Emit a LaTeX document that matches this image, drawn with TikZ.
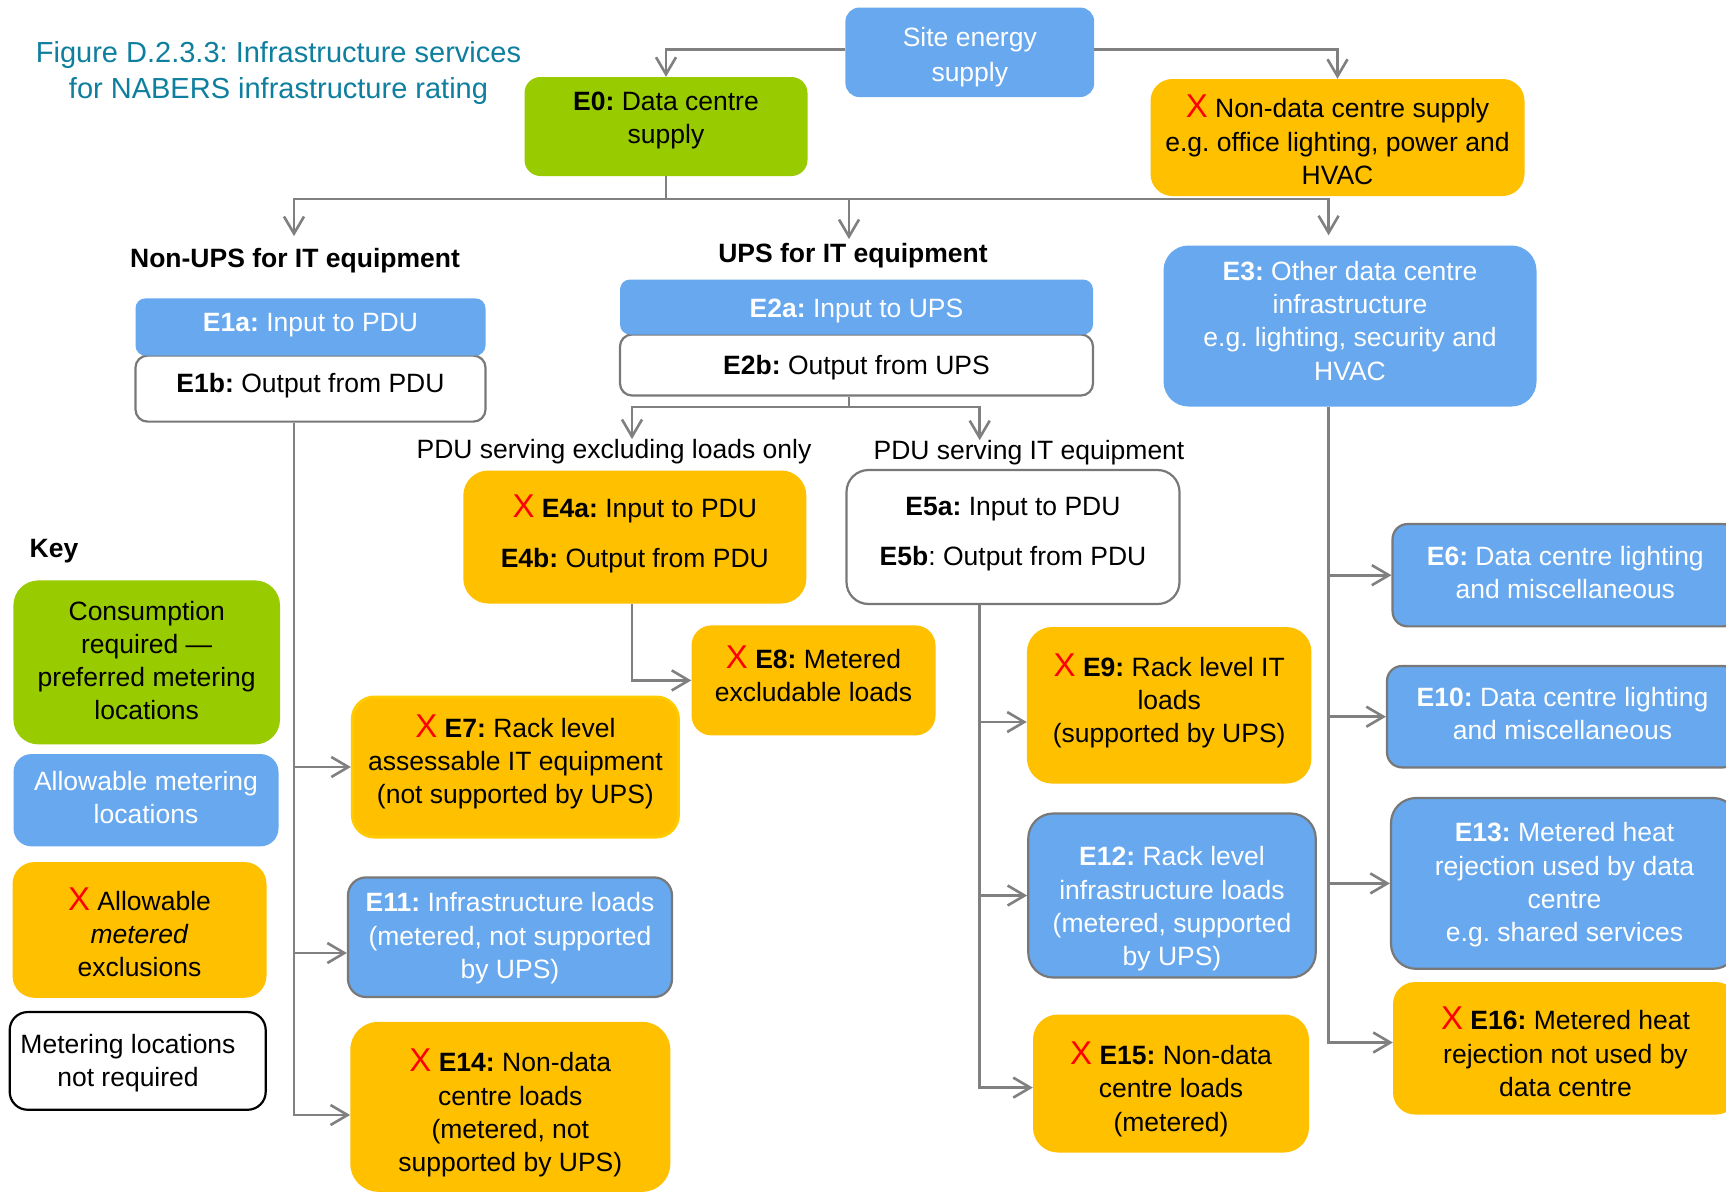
\documentclass[tikz,border=0pt]{standalone}
\usepackage{fontspec}
\setmainfont{Liberation Sans}
\usetikzlibrary{arrows.meta}
\definecolor{cblue}{RGB}{103,168,238}
\definecolor{cgreen}{RGB}{153,204,0}
\definecolor{corange}{RGB}{255,192,0}
\definecolor{cline}{RGB}{128,128,128}
\definecolor{cborder}{RGB}{120,120,120}
\definecolor{cteal}{RGB}{14,127,158}
\definecolor{cred}{RGB}{255,0,0}
\definecolor{cyel}{RGB}{255,202,0}
\newcommand\redx{{\fontsize{33}{33.3}\selectfont\color{cred}X}}
% name, style, radius, cx, cy, w, h, text-y, text
\newcommand\bx[9]{%
  \node[#2, rounded corners=#3pt, minimum width=#6pt, minimum height=#7pt] (#1) at (#4,#5) {};
  \node[txt, #2t] (#1t) at (#4,#8) {#9};}
\begin{document}
\frenchspacing
\begin{tikzpicture}[x=1pt,y=-1pt,
  txt/.style={inner sep=0pt, align=center, font=\fontsize{26.5}{33.3}\selectfont},
  boxbase/.style={inner sep=0pt},
  blu/.style={boxbase, fill=cblue},
  blut/.style={text=white},
  blb/.style={boxbase, fill=cblue, draw=cborder, line width=2.2pt},
  blbt/.style={text=white},
  grn/.style={boxbase, fill=cgreen},
  grnt/.style={text=black},
  org/.style={boxbase, fill=corange},
  orgt/.style={text=black},
  orgy/.style={boxbase, fill=corange, draw=cyel, line width=3pt},
  orgyt/.style={text=black},
  wht/.style={boxbase, fill=white, draw=cborder, line width=2.2pt},
  whtt/.style={text=black},
  whk/.style={boxbase, fill=white, draw=black, line width=2.2pt},
  whkt/.style={text=black},
  conn/.style={draw=cline, line width=2.6pt},
  arr/.style={conn, -{Straight Barb[length=17pt,width=20pt]}},
  hdr/.style={inner sep=0pt, font=\fontsize{26.5}{33.3}\selectfont\bfseries, anchor=base},
  lbl/.style={inner sep=0pt, font=\fontsize{26.5}{33.3}\selectfont, anchor=base},
]
\useasboundingbox (0,0) rectangle (1726,1194);
\clip (0,0) rectangle (1726,1194);
\fill[white] (0,0) rectangle (1726,1194);

% title
\node[txt, font=\fontsize{29}{36}\selectfont, text=cteal] (title) at (278.5,73.5)
  {Figure D.2.3.3: Infrastructure services\\for NABERS infrastructure rating};

% top row
\bx{site}{blu}{14}{969.8}{52.3}{248.8}{89.5}{57.2}{Site energy\\[1.9pt]supply}
\bx{E0}{grn}{16}{666}{126.5}{283}{99}{120.8}{\textbf{E0:} Data centre\\supply}
\bx{ND}{org}{22}{1337.5}{137.5}{374}{117}{139.9}{\redx\ Non-data centre supply\\e.g. office lighting, power and\\HVAC}

% headers
\node[hdr] (hL) at (295,267) {Non-UPS for IT equipment};
\node[hdr] (hM) at (853,262.5) {UPS for IT equipment};

% second row
\bx{E1b}{wht}{12}{310.5}{388.6}{350}{66}{385.5}{\textbf{E1b:} Output from PDU}
\bx{E1a}{blu}{10}{310.5}{327}{350}{57.3}{325.5}{\textbf{E1a:} Input to PDU}
\bx{E2b}{wht}{12}{856.5}{365}{473}{61}{367.2}{\textbf{E2b:} Output from UPS}
\bx{E2a}{blu}{10}{856.5}{307}{473}{55}{311.3}{\textbf{E2a:} Input to UPS}
\bx{E3}{blu}{25}{1350}{326}{373}{161}{320.7}{\textbf{E3:} Other data centre\\infrastructure\\e.g. lighting, security and\\HVAC}

% PDU labels
\node[lbl] (lL) at (614,458.5) {PDU serving excluding loads only};
\node[lbl] (lR) at (1029,459.6) {PDU serving IT equipment};

\bx{E4}{org}{25}{634.8}{537}{343}{133}{533.6}{\redx\ \textbf{E4a:} Input to PDU\\[17pt]\textbf{E4b:} Output from PDU}
\bx{E5}{wht}{22}{1013}{537}{333}{134}{533.9}{\textbf{E5a:} Input to PDU\\[17pt]\textbf{E5b}: Output from PDU}

% lower boxes
\bx{E8}{org}{20}{813.5}{680.4}{244}{110}{674}{\redx\ \textbf{E8:} Metered\\excludable loads}
\bx{E7}{orgy}{22}{515.4}{767}{326}{140}{762}{\redx\ \textbf{E7:} Rack level\\assessable IT equipment\\(not supported by UPS)}
\bx{E9}{org}{25}{1169.2}{705.3}{284.5}{156.5}{700.7}{\redx\ \textbf{E9:} Rack level IT\\loads\\(supported by UPS)}
\bx{E11}{blb}{18}{510}{937.2}{324}{119.6}{938.3}{\textbf{E11:} Infrastructure loads\\(metered, not supported\\by UPS)}
\bx{E12}{blb}{25}{1172}{895.5}{287.5}{164}{909}{\textbf{E12:} Rack level\\infrastructure loads\\(metered, supported\\by UPS)}
\bx{E14}{org}{28}{510.3}{1106.8}{320}{170}{1113.3}{\redx\ \textbf{E14:} Non-data\\centre loads\\(metered, not\\supported by UPS)}
\bx{E15}{org}{25}{1171}{1083.5}{276}{138}{1089.1}{\redx\ \textbf{E15:} Non-data\\centre loads\\(metered)}
\bx{E6}{blb}{15}{1565.3}{575.2}{345.5}{102.3}{572.2}{\textbf{E6:} Data centre lighting\\and miscellaneous}
\bx{E10}{blb}{15}{1562.5}{716.7}{351}{101.4}{713.6}{\textbf{E10:} Data centre lighting\\and miscellaneous}
\bx{E13}{blb}{25}{1564.5}{883.4}{347}{170.8}{884.8}{\textbf{E13:} Metered heat\\rejection used by data\\centre\\e.g. shared services}
\bx{E16}{org}{22}{1565.5}{1048.3}{345}{132.5}{1051.8}{\redx\ \textbf{E16:} Metered heat\\rejection not used by\\data centre}

% key
\node[hdr, anchor=center] (key) at (54,551.3) {Key};
\bx{KG}{grn}{25}{146.7}{662.4}{266.6}{164}{660.5}{Consumption\\required —\\preferred metering\\locations}
\bx{KB}{blu}{18}{146}{800.2}{265}{92.3}{797.7}{Allowable metering\\locations}
\bx{KO}{org}{22}{139.5}{929.9}{254}{135.7}{932.3}{\redx\ Allowable\\\textit{metered}\\exclusions}
\node[whk, rounded corners=18pt, minimum width=256pt, minimum height=97.7pt] (KW) at (137.7,1060.9) {};
\node[txt] (KWt) at (128,1063.1) {Metering locations\\not required};

% connectors
\coordinate (sy) at (0,49.5);
\coordinate (bL) at (294,199);
\coordinate (bM) at (849,199);
\coordinate (bR) at (1328.6,199);
\draw[arr] (site.west |- sy) -| (E0.north);
\draw[arr] (site.east |- sy) -| (ND.north);
\draw[arr, shorten >=11.5pt] (E0.south) -- (E0.south |- bL) -- (bL) -- (bL |- hL.north);
\draw[arr, shorten >=4pt] (E0.south |- bM) -- (bM) -- (bM |- hM.north);
\draw[arr, shorten >=10pt] (E0.south |- bR) -- (bR) -- (bR |- E3.north);

\coordinate (s0) at (849,407);
\coordinate (sL) at (632,407);
\coordinate (sR) at (979.7,407);
\draw[arr] (s0) -- (sL) -- (sL |- lL.north);
\draw[arr] (s0 |- E2b.south) -- (s0) -- (sR) -- (sR |- lR.north);

\draw[arr] (sL |- E4.south) |- (E8.west);

% left trunk
\coordinate (tL) at (294,1115);
\coordinate (a11) at (294,953);
\draw[arr] (tL |- E1b.south) -- (tL) -- (tL -| E14.west);
\draw[arr] (tL |- E7.west) -- (E7.west);
\draw[arr] (a11) -- (a11 -| E11.west);

% middle trunk
\coordinate (tM) at (979.7,1087.6);
\coordinate (a9) at (979.7,722);
\draw[arr] (tM |- E5.south) -- (tM) -- (tM -| E15.west);
\draw[arr] (a9) -- (a9 -| E9.west);
\draw[arr] (tM |- E12.west) -- (E12.west);

% right trunk
\coordinate (tR) at (1328.6,1042.5);
\draw[arr] (tR |- E3.south) -- (tR) -- (tR -| E16.west);
\draw[arr] (tR |- E6.west) -- (E6.west);
\draw[arr] (tR |- E10.west) -- (E10.west);
\draw[arr] (tR |- E13.west) -- (E13.west);
\end{tikzpicture}
\end{document}
